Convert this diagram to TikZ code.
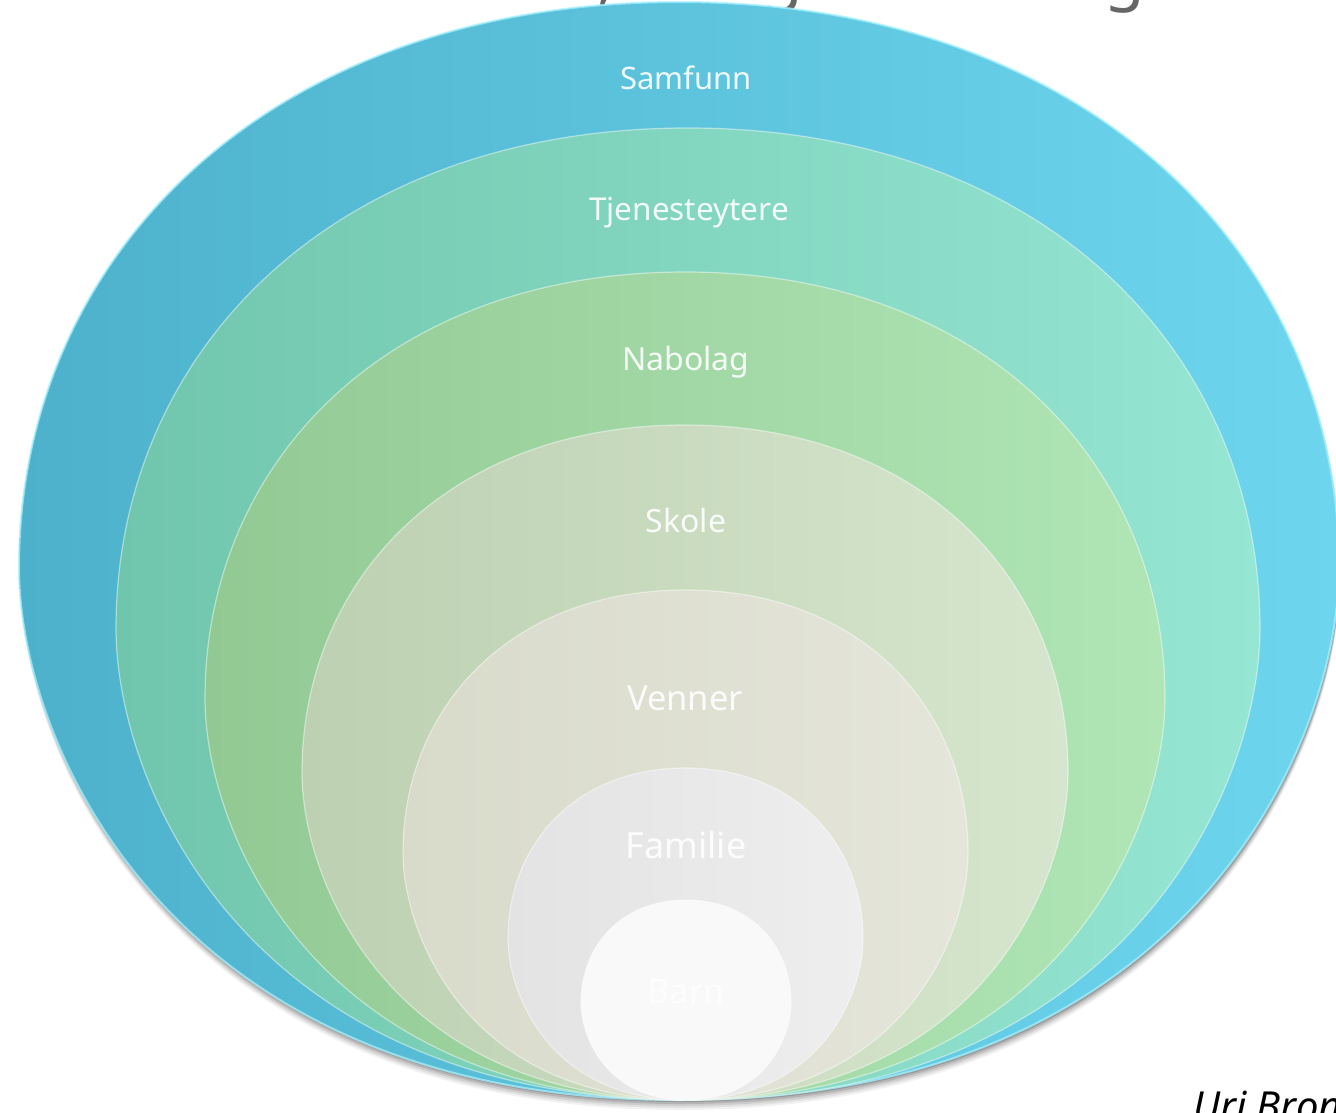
\documentclass[tikz,border=0pt]{standalone}
\usepackage{fontspec}
\setmainfont{Noto Sans}
\definecolor{c1l}{HTML}{4DB1CB}
\definecolor{c1r}{HTML}{6DD6EE}
\definecolor{c2l}{HTML}{70C6AC}
\definecolor{c2r}{HTML}{95E6D3}
\definecolor{c3l}{HTML}{92C993}
\definecolor{c3r}{HTML}{B0E6B6}
\definecolor{c4l}{HTML}{BDD0B1}
\definecolor{c4r}{HTML}{D6E6CE}
\definecolor{c5l}{HTML}{D8DACA}
\definecolor{c5r}{HTML}{E5E6DA}
\definecolor{c6l}{HTML}{E3E3E3}
\definecolor{c6r}{HTML}{EEEEEE}
\definecolor{c7}{HTML}{F9F9F9}
\definecolor{rim}{HTML}{A6F1FF}
\definecolor{titlegray}{HTML}{666666}
\newcommand\eggshape[5]{%
  \begin{scope}[shift={(#2,#3)}, xscale=#4, yscale=#5]
  \path[#1] (0,0) .. controls (0.77,0) and (1,-0.324) .. (1,-0.485)
    .. controls (1,-0.77) and (0.62,-1) .. (0,-1)
    .. controls (-0.62,-1) and (-1,-0.77) .. (-1,-0.485)
    .. controls (-1,-0.324) and (-0.77,0) .. (0,0) -- cycle;
  \end{scope}}
\begin{document}
\begin{tikzpicture}[x=1pt,y=-1pt,
  ring/.style={draw=white, draw opacity=0.45, line width=1.2pt},
  lbl/.style={text=white, anchor=base, inner sep=0pt, opacity=0.9},
  ttl/.style={text=titlegray, anchor=base, inner sep=0pt, font=\fontsize{66}{68}\selectfont}]
\useasboundingbox (0,0) rectangle (1336,1112);
\clip (0,0) rectangle (1336,1112);
% title (only its lowest parts are visible)
\node[ttl] (t1) at (606,-3) {,};
\node[ttl] (t2) at (783,-3) {g};
\node[ttl] (t3) at (1125,-3) {g};
% shadow of the bowl
\foreach \d/\o in {10/0.05,8/0.07,6/0.09,4/0.12,2/0.16}
  \eggshape{fill=black, opacity=\o}{680}{1100+\d}{660}{1098};
% rings
\eggshape{left color=c1l, right color=c1r, draw=rim, draw opacity=0.75, line width=2pt}{679}{1100}{660}{1098}
\eggshape{left color=c2l, right color=c2r, ring}{688}{1100}{572}{972}
\eggshape{left color=c3l, right color=c3r, ring}{685}{1100}{480}{828}
\eggshape{left color=c4l, right color=c4r, ring}{685}{1100}{383}{675}
\eggshape{left color=c5l, right color=c5r, ring}{685.5}{1100}{282.5}{510}
\eggshape{left color=c6l, right color=c6r, ring}{685.5}{1100}{177.5}{332}
\eggshape{fill=c7, ring}{686}{1100}{105}{200}
% labels
\node[lbl, font=\fontsize{31}{33}\selectfont] (samfunn) at (686,89) {Samfunn};
\node[lbl, font=\fontsize{31.5}{33}\selectfont] (tjen) at (689,220) {Tjenesteytere};
\node[lbl, font=\fontsize{32}{34}\selectfont] (nabolag) at (686,370) {Nabolag};
\node[lbl, font=\fontsize{32}{34}\selectfont] (skole) at (686,532) {Skole};
\node[lbl, font=\fontsize{34.5}{36}\selectfont] (venner) at (685,710) {Venner};
\node[lbl, font=\fontsize{36}{38}\selectfont] (familie) at (686,858) {Familie};
\node[lbl, font=\fontsize{34}{36}\selectfont, opacity=0.7] (barn) at (686,1003) {Barn};
% author
\node[anchor=base west, inner sep=0pt, font=\fontsize{40}{42}\selectfont\itshape] (author) at (1193,1120) {Uri Bronfenbrenner};
\end{tikzpicture}
\end{document}
